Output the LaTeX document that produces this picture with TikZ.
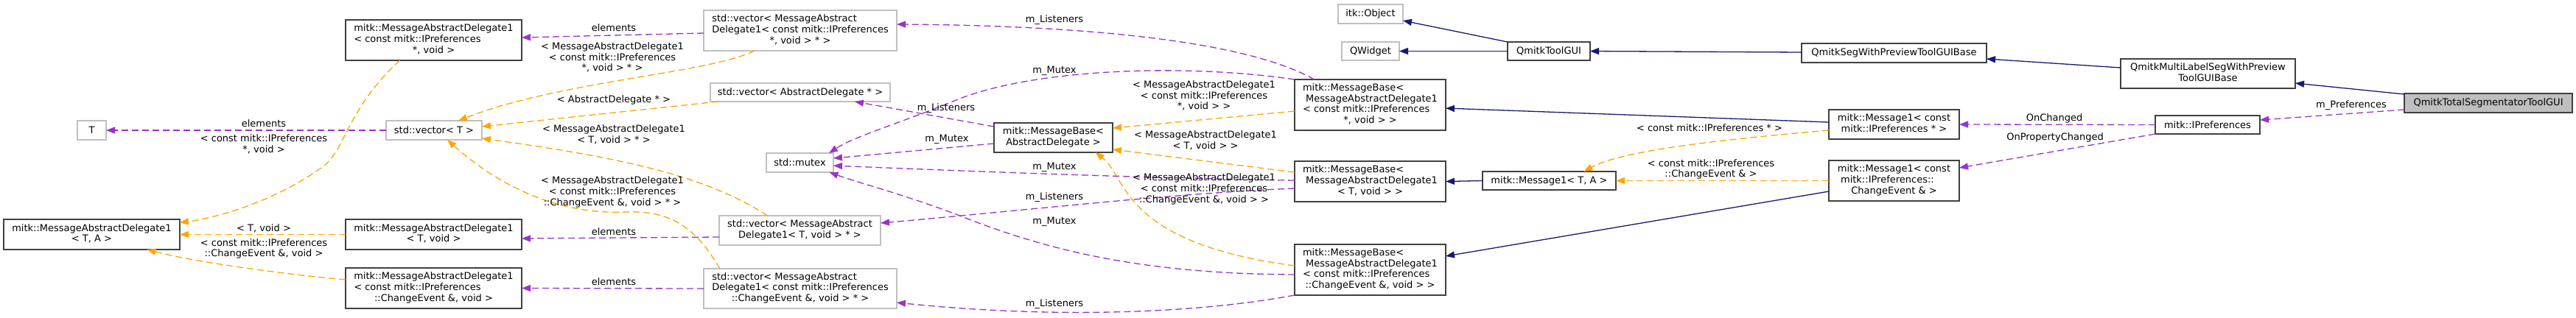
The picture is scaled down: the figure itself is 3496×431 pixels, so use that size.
\documentclass[tikz,border=0pt]{standalone}
\usepackage{fontspec}
\setmainfont{DejaVu Sans}
\usetikzlibrary{arrows.meta,calc}
\definecolor{navyc}{HTML}{191970}
\definecolor{orch}{HTML}{9A32CD}
\definecolor{orng}{HTML}{FFA500}
\definecolor{docb}{HTML}{404040}
\definecolor{undb}{HTML}{BFBFBF}
\definecolor{totalgray}{HTML}{BFBFBF}
\newcommand{\dlab}[2]{\begin{tabular}{@{}l@{}}#1\\\multicolumn{1}{@{}c@{}}{#2}\end{tabular}}
\begin{document}
\begin{tikzpicture}[x=1pt,y=-1pt,
 font=\fontsize{13pt}{14.7pt}\selectfont,
 every node/.style={inner sep=0pt,outer sep=0pt},
 doc/.style={draw=docb,line width=1.3pt,fill=white},
 und/.style={draw=undb,line width=1.3pt,fill=white},
 inh/.style={draw=navyc,line width=1.3pt,-{Triangle[length=12pt,width=9pt]}},
 tpl/.style={draw=orng,line width=1.3pt,dash pattern=on 9pt off 5pt,-{Triangle[length=12pt,width=9pt]}},
 usage/.style={draw=orch,line width=1.3pt,dash pattern=on 9pt off 5pt,-{Triangle[length=12pt,width=9pt]}},
 lbl/.style={align=center}]
\useasboundingbox (0,0) rectangle (3496,431);
% nodes
\node[doc,minimum width=239pt,minimum height=55pt] (A1) at (588.5,54.5) {\dlab{mitk::MessageAbstractDelegate1\\< const mitk::IPreferences}{*, void >}};
\node[und,minimum width=39pt,minimum height=26pt] (T) at (124.5,177) {T};
\node[und,minimum width=130pt,minimum height=26pt] (VT) at (589,177) {std::vector< T >};
\node[doc,minimum width=239pt,minimum height=41pt] (ATA) at (124.5,318.5) {\dlab{mitk::MessageAbstractDelegate1}{< T, A >}};
\node[doc,minimum width=239pt,minimum height=41pt] (ATv) at (588.5,318.5) {\dlab{mitk::MessageAbstractDelegate1}{< T, void >}};
\node[doc,minimum width=239pt,minimum height=55pt] (ACE) at (588.5,391.5) {\dlab{mitk::MessageAbstractDelegate1\\< const mitk::IPreferences}{::ChangeEvent \&, void >}};
\node[und,minimum width=262pt,minimum height=55pt] (V1) at (1086,41.5) {\dlab{std::vector< MessageAbstract\\Delegate1< const mitk::IPreferences}{*, void > * >}};
\node[und,minimum width=244pt,minimum height=25pt] (VAD) at (1086,125.5) {std::vector< AbstractDelegate * >};
\node[und,minimum width=91pt,minimum height=26pt] (MTX) at (1085.5,221) {std::mutex};
\node[und,minimum width=219pt,minimum height=40pt] (VTv) at (1085.5,313) {\dlab{std::vector< MessageAbstract}{Delegate1< T, void > * >}};
\node[und,minimum width=262pt,minimum height=54pt] (VCE) at (1086,392) {\dlab{std::vector< MessageAbstract\\Delegate1< const mitk::IPreferences}{::ChangeEvent \&, void > * >}};
\node[doc,minimum width=161pt,minimum height=40pt] (MBAD) at (1429.5,187) {\dlab{mitk::MessageBase<}{AbstractDelegate >}};
\node[doc,minimum width=205pt,minimum height=69pt] (MB1) at (1859.5,142.5) {\dlab{mitk::MessageBase<\\\ MessageAbstractDelegate1\\< const mitk::IPreferences}{*, void > >}};
\node[doc,minimum width=205pt,minimum height=55pt] (MB2) at (1859.5,246.5) {\dlab{mitk::MessageBase<\\\ MessageAbstractDelegate1}{< T, void > >}};
\node[doc,minimum width=205pt,minimum height=69pt] (MB3) at (1859.5,366.5) {\dlab{mitk::MessageBase<\\\ MessageAbstractDelegate1\\< const mitk::IPreferences}{::ChangeEvent \&, void > >}};
\node[und,minimum width=88pt,minimum height=26pt] (ITK) at (1860,19) {itk::Object};
\node[und,minimum width=78pt,minimum height=25pt] (QW) at (1860,69.5) {QWidget};
\node[doc,minimum width=112pt,minimum height=25pt] (QTG) at (2102,69.5) {QmitkToolGUI};
\node[doc,minimum width=181pt,minimum height=25pt] (M1TA) at (2102.5,245.5) {mitk::Message1< T, A >};
\node[doc,minimum width=251pt,minimum height=26pt] (QSWP) at (2570.5,72) {QmitkSegWithPreviewToolGUIBase};
\node[doc,minimum width=177pt,minimum height=40pt] (M1P) at (2570.5,169) {\dlab{mitk::Message1< const}{mitk::IPreferences * >}};
\node[doc,minimum width=177pt,minimum height=55pt] (M1CE) at (2570.5,245.5) {\dlab{mitk::Message1< const\\\ mitk::IPreferences::}{ChangeEvent \& >}};
\node[doc,minimum width=237pt,minimum height=40pt] (MULTI) at (2996.5,100) {\dlab{QmitkMultiLabelSegWithPreview}{ToolGUIBase}};
\node[doc,minimum width=142pt,minimum height=25pt] (IPREF) at (2996,169.5) {mitk::IPreferences};
\node[doc,fill=totalgray,minimum width=228pt,minimum height=26pt] (TOTAL) at (3377,140) {QmitkTotalSegmentatorToolGUI};
% inheritance
\draw[inh] ($(TOTAL.west)+(0,-12)$) -- ($(MULTI.east)+(0,13)$);
\draw[inh] ($(MULTI.west)+(0,-8)$) -- ($(QSWP.east)+(0,8)$);
\draw[inh] ($(QSWP.west)+(0,-1)$) -- (QTG.east);
\draw[inh] (QTG.north west) -- ($(ITK.east)+(0,9)$);
\draw[inh] (QTG.west) -- (QW.east);
\draw[inh] ($(M1P.west)+(0,-3)$) -- ($(MB1.east)+(0,4.5)$);
\draw[inh] (M1TA.west) -- (MB2.east);
\draw[inh] ($(M1CE.west)+(0,14.5)$) -- ($(MB3.east)+(0,-18.5)$);
% template instances
\draw[tpl] ($(M1P.west)+(0,8)$) .. controls (2330,190) and (2200,205) .. ($(M1TA.north)+(47,0)$);
\draw[tpl] (M1CE.west) -- (M1TA.east);
\draw[tpl] ($(MB1.west)+(0,8.5)$) -- ($(MBAD.east)+(0,-13)$);
\draw[tpl] ($(MB2.west)+(0,-12.5)$) -- ($(MBAD.east)+(0,16)$);
\draw[tpl] ($(MB3.west)+(0,-5.5)$) .. controls (1520,330) and (1530,240) .. ($(MBAD.south)+(57,0)$);
\draw[tpl] ($(V1.south)+(-62,0)$) .. controls (960,100) and (760,110) .. ($(VT.north)+(33,0)$);
\draw[tpl] ($(VAD.south west)+(11,0)$) -- ($(VT.east)+(0,-5)$);
\draw[tpl] ($(VTv.north)+(-44,0)$) .. controls (960,240) and (850,215) .. ($(VT.east)+(0,11)$);
\draw[tpl] ($(VCE.north)+(-109,0)$) .. controls (950,320) and (920,285) .. (850,288) .. controls (760,292) and (680,255) .. ($(VT.south)+(18,0)$);
\draw[tpl] ($(A1.south)+(-46,0)$) .. controls (470,150) and (470,200) .. (440,225) .. controls (380,270) and (300,295) .. ($(ATA.east)+(0,-16)$);
\draw[tpl] (ATv.west) -- (ATA.east);
\draw[tpl] ($(ACE.west)+(0,-11.5)$) .. controls (380,372) and (260,355) .. ($(ATA.south)+(75,0)$);
% usage
\draw[usage] (VT.west) -- (T.east);
\draw[usage] ($(V1.west)+(0,3.5)$) -- ($(A1.east)+(0,-3.5)$);
\draw[usage] ($(VTv.west)+(0,9)$) -- ($(ATv.east)+(0,5.5)$);
\draw[usage] (VCE.west) -- (ACE.east);
\draw[usage] ($(MB1.north)+(-76,0)$) .. controls (1700,60) and (1500,35) .. ($(V1.east)+(0,-8.5)$);
\draw[usage] (MB1.north west) .. controls (1600,85) and (1400,95) .. (1300,135) .. controls (1220,168) and (1160,185) .. ($(MTX.north east)+(-6,0)$);
\draw[usage] ($(MBAD.west)+(0,-15)$) -- ($(VAD.south)+(74,0)$);
\draw[usage] ($(MBAD.west)+(0,8)$) -- ($(MTX.east)+(0,-6)$);
\draw[usage] ($(MB2.west)+(0,-1.5)$) .. controls (1550,242) and (1300,232) .. ($(MTX.east)+(0,4)$);
\draw[usage] ($(MB2.west)+(0,9.5)$) .. controls (1600,262) and (1400,285) .. ($(VTv.east)+(0,-10)$);
\draw[usage] ($(MB3.west)+(0,6.5)$) .. controls (1550,372) and (1420,340) .. (1300,292) .. controls (1220,262) and (1170,250) .. ($(MTX.south)+(40,0)$);
\draw[usage] (MB3.south west) .. controls (1600,430) and (1400,430) .. ($(VCE.east)+(0,19)$);
\draw[usage] (IPREF.west) -- (M1P.east);
\draw[usage] (IPREF.south west) -- ($(M1CE.east)+(0,-17.5)$);
\draw[usage] ($(TOTAL.west)+(0,9)$) -- ($(IPREF.east)+(0,-6.5)$);
% labels
\node[lbl] (l1) at (2320,174) {< const mitk::IPreferences * >};
\node[lbl] (l2) at (2322,230) {< const mitk::IPreferences\\::ChangeEvent \& >};
\node[lbl] (l3) at (1634,130) {< MessageAbstractDelegate1\\< const mitk::IPreferences\\*, void > >};
\node[lbl] (l4) at (1636,191) {< MessageAbstractDelegate1\\< T, void > >};
\node[lbl] (l5) at (1634,257) {< MessageAbstractDelegate1\\< const mitk::IPreferences\\::ChangeEvent \&, void > >};
\node[lbl] (l6) at (831,78) {< MessageAbstractDelegate1\\< const mitk::IPreferences\\*, void > * >};
\node[lbl] (l7) at (833,136) {< AbstractDelegate * >};
\node[lbl] (l8) at (833,183) {< MessageAbstractDelegate1\\< T, void > * >};
\node[lbl] (l9) at (831,261) {< MessageAbstractDelegate1\\< const mitk::IPreferences\\::ChangeEvent \&, void > * >};
\node[lbl] (l10) at (358,196) {< const mitk::IPreferences\\*, void >};
\node[lbl] (l11) at (358,310) {< T, void >};
\node[lbl] (l12) at (358,338) {< const mitk::IPreferences\\::ChangeEvent \&, void >};
\node[lbl] (l13) at (358,168) {elements};
\node[lbl] (l14) at (833,38) {elements};
\node[lbl] (l15) at (833,315) {elements};
\node[lbl] (l16) at (833,383) {elements};
\node[lbl] (l17) at (1431,27) {m\_Listeners};
\node[lbl] (l18) at (1431,96) {m\_Mutex};
\node[lbl] (l19) at (1284,147) {m\_Listeners};
\node[lbl] (l20) at (1285,189) {m\_Mutex};
\node[lbl] (l21) at (1431,227) {m\_Mutex};
\node[lbl] (l22) at (1431,268) {m\_Listeners};
\node[lbl] (l23) at (1431,301) {m\_Mutex};
\node[lbl] (l24) at (1431,413) {m\_Listeners};
\node[lbl] (l25) at (2788,161) {OnChanged};
\node[lbl] (l26) at (2789,187) {OnPropertyChanged};
\node[lbl] (l27) at (3191,143) {m\_Preferences};
\end{tikzpicture}
\end{document}
